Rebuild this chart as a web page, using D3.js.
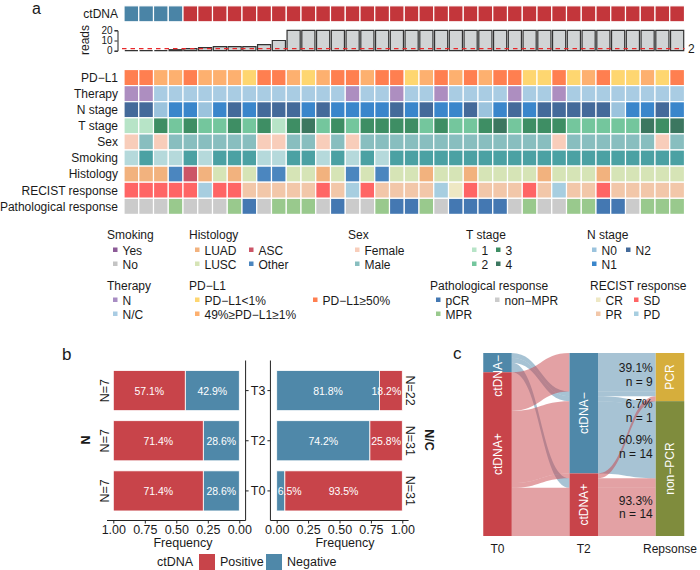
<!DOCTYPE html>
<html><head><meta charset="utf-8">
<script src="https://cdn.jsdelivr.net/npm/d3@7"></script>
<style>body{margin:0;background:#fff}svg{display:block;font-family:"Liberation Sans",Arial,sans-serif}</style>
</head><body><svg id="chart" width="700" height="570"></svg>
<script>
// ================= DATA =================
// Panel a: one entry per patient (38 columns)
const ctDNA = ["Negative","Negative","Negative","Negative",
  "Positive","Positive","Positive","Positive","Positive","Positive","Positive","Positive","Positive","Positive",
  "Positive","Positive","Positive","Positive","Positive","Positive","Positive","Positive","Positive","Positive",
  "Positive","Positive","Positive","Positive","Positive","Positive","Positive","Positive","Positive","Positive",
  "Positive","Positive","Positive","Positive"];
const reads = [0,0,0,1,2,3,4,4,4,6,10,20,20,20,20,20,20,20,20,20,20,20,20,20,20,20,20,20,20,20,20,20,20,20,20,20,20,20];
const readsThreshold = 2;
const readsTicks = [0,10,20];
const pdl1 = ["H","H","M","M","H","M","M","M","L","H","H","M","L",
  "M","H","H","M","H","H","L","M","H","M","H","M","H",
  "H","L","L","H","L","M","H","L","L","M","L","H"];
const therapy = ["N","N","N/C","N/C","N/C","N/C","N/C","N/C","N/C","N/C","N/C","N/C","N/C",
  "N/C","N/C","N","N/C","N/C","N","N/C","N/C","N","N/C","N/C","N/C","N/C",
  "N","N/C","N/C","N","N/C","N/C","N/C","N/C","N/C","N/C","N/C","N/C"];
const nStage = ["N2","N2","N0","N1","N1","N0","N1","N2","N1","N2","N2","N2","N1",
  "N2","N1","N1","N1","N1","N2","N1","N2","N1","N1","N2","N0","N1",
  "N2","N1","N2","N2","N2","N2","N2","N0","N1","N1","N2","N1"];
const tStage = ["1","1","3","2","3","2","2","3","2","3","1","3","4",
  "2","3","2","3","3","3","3","2","3","2","2","3","4",
  "2","3","3","3","2","2","2","2","2","4","3","4"];
const sex = ["F","M","F","M","M","M","M","M","M","F","F","M","M",
  "F","M","F","M","M","M","M","M","M","M","M","M","M",
  "M","M","M","F","M","M","M","M","M","M","F","M"];
const smoking = ["No","Yes","No","No","Yes","No","Yes","Yes","Yes","No","No","Yes","Yes",
  "No","Yes","No","Yes","No","Yes","Yes","Yes","Yes","Yes","Yes","Yes","Yes",
  "Yes","Yes","Yes","Yes","Yes","Yes","Yes","Yes","Yes","Yes","Yes","Yes"];
const histology = ["LUAD","LUAD","LUAD","Other","ASC","LUAD","LUSC","LUAD","LUSC","Other","Other","LUSC","LUSC",
  "LUAD","LUSC","Other","LUSC","Other","LUSC","LUSC","LUAD","LUSC","LUSC","LUAD","LUSC","LUSC",
  "LUSC","LUSC","LUAD","LUSC","LUSC","LUSC","LUAD","LUSC","LUSC","LUSC","LUSC","LUSC"];
const recist = ["SD","SD","SD","SD","SD","PD","SD","SD","PR","PR","PR","PR","PR",
  "SD","PR","PD","SD","PR","PR","PR","PR","PD","CR","SD","PR","PR",
  "PR","SD","PR","PD","PR","PR","SD","PR","PR","PR","PR","PR"];
const pathological = ["non","non","non","MPR","non","non","non","MPR","pCR","non","MPR","MPR","MPR",
  "non","pCR","non","non","MPR","pCR","pCR","MPR","non","pCR","pCR","pCR","pCR",
  "non","MPR","non","non","MPR","MPR","pCR","pCR","non","MPR","MPR","MPR"];
const rowNames = ["PD−L1","Therapy","N stage","T stage","Sex","Smoking","Histology","RECIST response","Pathological response"];

// Panel b
const bTimes = ["T3","T2","T0"];
const bPosN = [0.571,0.714,0.714], bNegN = [0.429,0.286,0.286], bCountN = [7,7,7];
const bPosNC = [0.182,0.258,0.935], bNegNC = [0.818,0.742,0.065], bCountNC = [22,31,31];
const bTicks = [0,0.25,0.5,0.75,1];

// Panel c (alluvia: T0 status, T2 status, response, count)
const sAxes = ["T0","T2","Repsonse"];
const sStrata = [["ctDNA−","ctDNA+"],["ctDNA−","ctDNA+"],["PCR","non−PCR"]];
const alluvT0 = ["ctDNA−","ctDNA−","ctDNA−","ctDNA+","ctDNA+","ctDNA+","ctDNA+"];
const alluvT2 = ["ctDNA−","ctDNA−","ctDNA+","ctDNA−","ctDNA−","ctDNA+","ctDNA+"];
const alluvResp = ["PCR","non−PCR","non−PCR","PCR","non−PCR","PCR","non−PCR"];
const alluvN = [1,1,2,8,15,1,10];
const respT2 = ["ctDNA−","ctDNA+","ctDNA−","ctDNA+"];
const respGroup = ["PCR","PCR","non−PCR","non−PCR"];
const respPct = ["39.1%","6.7%","60.9%","93.3%"];
const respN = [9,1,14,14];

// ================= STYLE =================
const RED = "#C8444A", BLUE = "#4F88A9";
const colors = {
  ctDNA: {Negative:"#4A84A6", Positive:"#C3363B"},
  "PD−L1": {L:"#FED670", M:"#FDB06F", H:"#FF7F50"},
  Therapy: {N:"#AD8EC0", "N/C":"#A9CCE3"},
  "N stage": {N0:"#9BC3DD", N1:"#3A86CB", N2:"#446A9A"},
  "T stage": {"1":"#B7E4C7","2":"#74C69D","3":"#3E8E64","4":"#3C7760"},
  Sex: {F:"#F8CDBA", M:"#88BEBF"},
  Smoking: {No:"#B5D9DB", Yes:"#4BA1A3"},
  Histology: {LUAD:"#F2B27E", ASC:"#CC5567", LUSC:"#D6E4B6", Other:"#4B86BF"},
  "RECIST response": {CR:"#EEE8C4", SD:"#FF6565", PR:"#F2C7A9", PD:"#A7CEE0"},
  "Pathological response": {pCR:"#4478B2", non:"#CBCBCB", MPR:"#99C98D"}
};
const rowData = [pdl1, therapy, nStage, tStage, sex, smoking, histology, recist, pathological];
const TXT = "#1a1a1a";
const FF = "Liberation Sans, Arial, sans-serif";

const svg = d3.select("#chart");

// ================= PANEL A =================
const nCol = ctDNA.length;
const xH = d3.scaleBand().domain(d3.range(nCol)).range([124, 684.5]);
const bw = xH.bandwidth();
svg.append("text").attr("x",32).attr("y",14).attr("font-size",16).attr("fill",TXT).text("a");

svg.append("g").selectAll("rect").data(ctDNA).join("rect")
  .attr("x",(d,i)=>xH(i)).attr("y",5.8).attr("width",bw).attr("height",16)
  .attr("fill",d=>colors.ctDNA[d]).attr("stroke","#fff").attr("stroke-width",1.2);
svg.append("text").attr("x",118).attr("y",18).attr("text-anchor","end").attr("font-size",12).attr("fill",TXT).text("ctDNA");

const yR = d3.scaleLinear().domain([0,20]).range([50.7,30.3]);
svg.append("g").selectAll("path").data(reads).join("path")
  .attr("d",(d,i)=>{const x0=xH(i)+0.8, x1=xH(i)+bw-0.8; return `M${x0},${yR(0)}V${yR(d)}H${x1}V${yR(0)}Z`;})
  .attr("fill","#D1D4D5").attr("stroke","#333").attr("stroke-width",1.2);
svg.append("line").attr("x1",122).attr("x2",684.5).attr("y1",yR(readsThreshold)).attr("y2",yR(readsThreshold))
  .attr("stroke","#E8282B").attr("stroke-width",1.3).attr("stroke-dasharray","4.5,4");
svg.append("text").attr("x",688).attr("y",yR(readsThreshold)+4.5).attr("font-size",12).attr("fill",TXT).text(readsThreshold);
const gRA = svg.append("g").attr("transform","translate(117.5,0)")
  .call(d3.axisLeft(yR).tickValues(readsTicks).tickSize(3).tickPadding(2));
gRA.selectAll("text").attr("font-size",10).attr("fill",TXT).attr("font-family",FF);
gRA.selectAll("line,path").attr("stroke","#222");
svg.append("text").attr("transform","translate(89,40) rotate(-90)").attr("text-anchor","middle")
  .attr("font-size",12).attr("fill",TXT).text("reads");

const yRow = d3.scaleBand().domain(rowNames).range([69.5,214.4]);
rowNames.forEach((rn,ri)=>{
  svg.append("g").selectAll("rect").data(rowData[ri]).join("rect")
    .attr("x",(d,i)=>xH(i)).attr("y",yRow(rn)).attr("width",bw).attr("height",yRow.bandwidth())
    .attr("fill",d=>colors[rn][d]).attr("stroke","#fff").attr("stroke-width",1.2);
  svg.append("text").attr("x",118).attr("y",yRow(rn)+yRow.bandwidth()/2+4.3).attr("text-anchor","end")
    .attr("font-size",12).attr("fill",TXT).text(rn);
});

function legend(title, x, y, items){
  const g = svg.append("g");
  g.append("text").attr("x",x).attr("y",y).attr("font-size",12).attr("fill",TXT).text(title);
  items.forEach(it=>{
    g.append("rect").attr("x",it.dx).attr("y",it.dy-7.5).attr("width",4.5).attr("height",4.5).attr("fill",it.c);
    g.append("text").attr("x",it.dx+9.5).attr("y",it.dy).attr("font-size",12).attr("fill",TXT).text(it.t);
  });
}
const r1 = 239, r1a = 255, r1b = 269, r2 = 290, r2a = 305, r2b = 319;
legend("Smoking",107,r1,[{t:"Yes",c:"#8C5B97",dx:113,dy:r1a},{t:"No",c:"#C4C4C4",dx:113,dy:r1b}]);
legend("Histology",189,r1,[{t:"LUAD",c:colors.Histology.LUAD,dx:195,dy:r1a},{t:"ASC",c:colors.Histology.ASC,dx:249,dy:r1a},
  {t:"LUSC",c:colors.Histology.LUSC,dx:195,dy:r1b},{t:"Other",c:colors.Histology.Other,dx:249,dy:r1b}]);
legend("Sex",348,r1,[{t:"Female",c:colors.Sex.F,dx:355,dy:r1a},{t:"Male",c:colors.Sex.M,dx:355,dy:r1b}]);
legend("T stage",466,r1,[{t:"1",c:colors["T stage"]["1"],dx:472,dy:r1a},{t:"3",c:colors["T stage"]["3"],dx:496,dy:r1a},
  {t:"2",c:colors["T stage"]["2"],dx:472,dy:r1b},{t:"4",c:colors["T stage"]["4"],dx:496,dy:r1b}]);
legend("N stage",587,r1,[{t:"N0",c:colors["N stage"].N0,dx:592,dy:r1a},{t:"N2",c:colors["N stage"].N2,dx:626,dy:r1a},
  {t:"N1",c:colors["N stage"].N1,dx:592,dy:r1b}]);
legend("Therapy",107,r2,[{t:"N",c:"#A88DC3",dx:113,dy:r2a},{t:"N/C",c:colors.Therapy["N/C"],dx:113,dy:r2b}]);
legend("PD−L1",189,r2,[{t:"PD−L1<1%",c:colors["PD−L1"].L,dx:195,dy:r2a},{t:"PD−L1≥50%",c:colors["PD−L1"].H,dx:313,dy:r2a},
  {t:"49%≥PD−L1≥1%",c:colors["PD−L1"].M,dx:195,dy:r2b}]);
legend("Pathological response",430,r2,[{t:"pCR",c:colors["Pathological response"].pCR,dx:436,dy:r2a},
  {t:"non−MPR",c:colors["Pathological response"].non,dx:495,dy:r2a},{t:"MPR",c:colors["Pathological response"].MPR,dx:436,dy:r2b}]);
legend("RECIST response",590,r2,[{t:"CR",c:colors["RECIST response"].CR,dx:596,dy:r2a},{t:"SD",c:colors["RECIST response"].SD,dx:634,dy:r2a},
  {t:"PR",c:colors["RECIST response"].PR,dx:596,dy:r2b},{t:"PD",c:colors["RECIST response"].PD,dx:634,dy:r2b}]);

// ================= PANEL B =================
svg.append("text").attr("x",62).attr("y",360).attr("font-size",17).attr("fill",TXT).text("b");
const yB = d3.scaleBand().domain(bTimes).range([360.5,521]).paddingInner(0.2).paddingOuter(0.2);
const xL = d3.scaleLinear().domain([0,1]).range([239.3,113.3]);
const xRt = d3.scaleLinear().domain([0,1]).range([276.7,402.3]);
const pf = d3.format(".1%");
function barPanel(xs, pos, neg){
  const g = svg.append("g");
  bTimes.forEach((t,i)=>{
    const segs = [{a:0,b:neg[i],c:BLUE,v:neg[i]},{a:neg[i],b:neg[i]+pos[i],c:RED,v:pos[i]}];
    segs.forEach(s=>{
      const x0 = Math.min(xs(s.a),xs(s.b)), x1 = Math.max(xs(s.a),xs(s.b));
      g.append("rect").attr("x",x0).attr("y",yB(t)).attr("width",x1-x0).attr("height",yB.bandwidth())
        .attr("fill",s.c).attr("stroke","#fff").attr("stroke-width",0.8);
    });
    segs.forEach(s=>{
      const x0 = Math.min(xs(s.a),xs(s.b)), x1 = Math.max(xs(s.a),xs(s.b));
      const lo = Math.min(xs(0),xs(1)), hi = Math.max(xs(0),xs(1));
      const tx = g.append("text").attr("y",yB(t)+yB.bandwidth()/2+4).attr("text-anchor","middle")
        .attr("font-size",10.5).attr("fill","#fff").text(pf(s.v));
      const w = tx.node().getComputedTextLength();
      let cx = (x0+x1)/2; cx = Math.max(cx, lo+w/2+1); cx = Math.min(cx, hi-w/2-1);
      tx.attr("x",cx);
    });
  });
  const ax = g.append("g").attr("transform","translate(0,520.5)")
    .call(d3.axisBottom(xs).tickValues(bTicks).tickFormat(d3.format(".2f")).tickSize(3).tickPadding(1.5));
  ax.select(".domain").remove();
  ax.selectAll("line").attr("stroke","#222");
  ax.selectAll("text").attr("font-size",12.5).attr("fill",TXT).attr("font-family",FF);
  g.append("line").attr("x1",xs(-0.05)).attr("x2",xs(1.05)).attr("y1",520.5).attr("y2",520.5).attr("stroke","#222");
  g.append("line").attr("x1",xs(-0.05)).attr("x2",xs(-0.05)).attr("y1",360.5).attr("y2",520.5).attr("stroke","#222");
  return g;
}
barPanel(xL, bPosN, bNegN);
barPanel(xRt, bPosNC, bNegNC);
const yAxL = svg.append("g").attr("transform",`translate(${xL(-0.05)},0)`).call(d3.axisRight(yB).tickSize(3).tickFormat(""));
yAxL.select(".domain").remove(); yAxL.selectAll("line").attr("stroke","#222");
const yAxR = svg.append("g").attr("transform",`translate(${xRt(-0.05)},0)`).call(d3.axisLeft(yB).tickSize(3).tickPadding(2));
yAxR.select(".domain").remove(); yAxR.selectAll("line").attr("stroke","#222");
yAxR.selectAll("text").attr("font-size",12.5).attr("fill",TXT).attr("font-family",FF);
svg.append("text").attr("x",183).attr("y",547).attr("text-anchor","middle").attr("font-size",12.5).attr("fill",TXT).text("Frequency");
svg.append("text").attr("x",345).attr("y",547).attr("text-anchor","middle").attr("font-size",12.5).attr("fill",TXT).text("Frequency");
bTimes.forEach((t,i)=>{
  const cy = yB(t)+yB.bandwidth()/2;
  svg.append("text").attr("transform",`translate(109,${cy}) rotate(-90)`).attr("text-anchor","middle")
    .attr("font-size",12.5).attr("fill",TXT).text("N="+bCountN[i]);
  svg.append("text").attr("transform",`translate(405.5,${cy}) rotate(90)`).attr("text-anchor","middle")
    .attr("font-size",12.5).attr("fill",TXT).text("N="+bCountNC[i]);
});
svg.append("text").attr("transform","translate(90,440) rotate(-90)").attr("text-anchor","middle")
  .attr("font-size",12.5).attr("font-weight","bold").attr("fill",TXT).text("N");
svg.append("text").attr("transform","translate(424.5,440) rotate(90)").attr("text-anchor","middle")
  .attr("font-size",12.5).attr("font-weight","bold").attr("fill",TXT).text("N/C");
const lgB = svg.append("g");
lgB.append("text").attr("x",157).attr("y",566).attr("font-size",12.5).attr("fill",TXT).text("ctDNA");
[["Positive",RED,199],["Negative",BLUE,266]].forEach(([t,c,x])=>{
  lgB.append("rect").attr("x",x).attr("y",554).attr("width",16).attr("height",16).attr("fill",c);
  lgB.append("text").attr("x",x+21).attr("y",566).attr("font-size",12.5).attr("fill",TXT).text(t);
});

// ================= PANEL C =================
svg.append("text").attr("x",453).attr("y",359).attr("font-size",17).attr("fill",TXT).text("c");
const total = d3.sum(alluvN);
const yS = d3.scaleLinear().domain([0,total]).range([353,536]);
const xAx = d3.scalePoint().domain(sAxes).range([497.5,670]);
const nodeW = 28.5;
const alluv = alluvN.map((n,i)=>({n, s:[sStrata[0].indexOf(alluvT0[i]), sStrata[1].indexOf(alluvT2[i]), sStrata[2].indexOf(alluvResp[i])], pos:[]}));
function cmpKeys(ka,kb){for(let i=0;i<ka.length;i++){if(ka[i]!==kb[i]) return ka[i]-kb[i];} return 0;}
const orderKeys = [
  a=>[a.s[0],a.s[1],a.s[2]],
  a=>[a.s[1],a.s[2],a.s[2]===0?-a.s[0]:a.s[0]],
  a=>[a.s[2],a.s[1],a.pos[1][0]]
];
for(let ax=0;ax<3;ax++){
  const sorted = alluv.slice().sort((a,b)=>cmpKeys(orderKeys[ax](a),orderKeys[ax](b)));
  let cum=0; sorted.forEach(a=>{a.pos[ax]=[cum,cum+a.n]; cum+=a.n;});
}
const gC = svg.append("g");
function flowPath(xa,ya0,ya1,xb,yb0,yb1){
  const xm=(xa+xb)/2;
  return `M${xa},${ya0}C${xm},${ya0} ${xm},${yb0} ${xb},${yb0}L${xb},${yb1}C${xm},${yb1} ${xm},${ya1} ${xa},${ya1}Z`;
}
const stratumColor = {"ctDNA−":BLUE,"ctDNA+":RED,"PCR":"#D6AE3C","non−PCR":"#7F8C3D"};
for(let ax=0;ax<2;ax++){
  alluv.forEach(a=>{
    const xa = xAx(sAxes[ax])+nodeW/2, xb = xAx(sAxes[ax+1])-nodeW/2;
    gC.append("path").attr("d",flowPath(xa,yS(a.pos[ax][0]),yS(a.pos[ax][1]),xb,yS(a.pos[ax+1][0]),yS(a.pos[ax+1][1])))
      .attr("fill",stratumColor[sStrata[ax][a.s[ax]]]).attr("fill-opacity",0.5);
  });
}
const nodeLabels = [];
for(let ax=0;ax<3;ax++){
  let cum=0;
  sStrata[ax].forEach((st,si)=>{
    const n = d3.sum(alluv.filter(a=>a.s[ax]===si),a=>a.n);
    const y0=yS(cum), y1=yS(cum+n); cum+=n;
    const x = xAx(sAxes[ax]);
    gC.append("rect").attr("x",x-nodeW/2).attr("y",y0).attr("width",nodeW).attr("height",y1-y0).attr("fill",stratumColor[st]);
    nodeLabels.push({st,x,y0,y1});
  });
  gC.append("text").attr("x",xAx(sAxes[ax])).attr("y",553).attr("text-anchor","middle").attr("font-size",12).attr("fill",TXT).text(sAxes[ax]);
}
nodeLabels.forEach(l=>{
  const tx = gC.append("text").attr("text-anchor","middle").attr("font-size",12).attr("fill","#fff").text(l.st);
  const w = tx.node().getComputedTextLength();
  const cy = Math.max((l.y0+l.y1)/2, yS(0)+w/2+2);
  tx.attr("transform",`translate(${l.x+4.3},${cy}) rotate(-90)`);
});
let prev = -1e9;
respPct.forEach((p,i)=>{
  const sel = alluv.filter(a=>sStrata[1][a.s[1]]===respT2[i] && sStrata[2][a.s[2]]===respGroup[i]);
  const lo = d3.min(sel,a=>a.pos[2][0]), hi = d3.max(sel,a=>a.pos[2][1]);
  let cy = (yS(lo)+yS(hi))/2; cy = Math.max(cy, prev+36); prev = cy;
  const xr = xAx(sAxes[2])-nodeW/2-3;
  gC.append("text").attr("x",xr).attr("y",cy-2.5).attr("text-anchor","end").attr("font-size",12).attr("fill",TXT).text(p);
  gC.append("text").attr("x",xr).attr("y",cy+11).attr("text-anchor","end").attr("font-size",12).attr("fill",TXT).text("n = "+respN[i]);
});
</script></body></html>
